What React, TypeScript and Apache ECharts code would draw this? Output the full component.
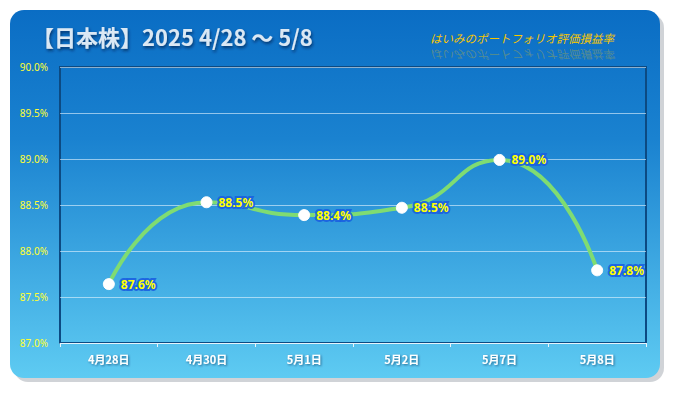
import React, { useEffect, useRef } from "react";
import * as echarts from "echarts";

const categories = ["4月28日", "4月30日", "5月1日", "5月2日", "5月7日", "5月8日"];
const values = [87.64, 88.53, 88.39, 88.47, 88.99, 87.79];
const titleText = "【日本株】2025 4/28 ～ 5/8";
const subtitleText = "はいみのポートフォリオ評価損益率";
const yMin = 87;
const yMax = 90;
const yInterval = 0.5;

export default function App() {
  const ref = useRef<HTMLDivElement>(null);
  useEffect(() => {
    if (!ref.current) return;
    const chart = echarts.init(ref.current, null, { renderer: "svg" });
    chart.setOption({
      animation: false,
      graphic: [
        {
          type: "rect",
          shape: { x: 14, y: 14, width: 650, height: 368, r: 14 },
          style: { fill: "rgba(120,130,140,0.35)" },
          z: -12,
        },
        {
          type: "rect",
          shape: { x: 10, y: 10, width: 650, height: 368, r: 14 },
          style: {
            fill: new echarts.graphic.LinearGradient(0, 0, 0, 1, [
              { offset: 0, color: "#0a6dc4" },
              { offset: 0.35, color: "#1a82d0" },
              { offset: 1, color: "#5ecbf2" },
            ]),
          },
          z: -10,
        },
        {
          type: "text",
          left: 32,
          top: 25,
          style: {
            text: titleText,
            fill: "#dbe8f4",
            font: "bold 22px 'Noto Sans CJK JP', 'Noto Sans'",
            textShadowColor: "rgba(0,30,70,0.7)",
            textShadowBlur: 3,
            textShadowOffsetX: 1,
            textShadowOffsetY: 2,
          },
        },
        {
          type: "text",
          x: 430,
          y: 32,
          style: {
            text: subtitleText,
            fill: "#f7c600",
            font: "italic 11.5px 'Noto Sans CJK JP'",
          },
        },
        {
          type: "text",
          x: 430,
          y: 61,
          scaleY: -1,
          style: {
            text: subtitleText,
            fill: "rgba(247,198,0,0.3)",
            font: "italic 11.5px 'Noto Sans CJK JP'",
          },
        },
      ],
      grid: {
        left: 60,
        right: 29,
        top: 67,
        bottom: 50,
        show: true,
        borderColor: "#0c4a82",
        borderWidth: 2,
        backgroundColor: "transparent",
      },
      xAxis: {
        type: "category",
        data: categories,
        boundaryGap: true,
        axisLine: { show: true, lineStyle: { color: "#e6f4fb", width: 1 } },
        axisTick: { show: true, length: 4, lineStyle: { color: "#e6f4fb" } },
        axisLabel: {
          color: "#ffffff",
          fontWeight: "bold",
          fontSize: 11,
          fontFamily: "'Noto Sans CJK JP'",
          margin: 10,
          textShadowColor: "rgba(0,40,80,0.6)",
          textShadowBlur: 2,
          textShadowOffsetX: 1,
          textShadowOffsetY: 1,
        },
        splitLine: { show: false },
      },
      yAxis: {
        type: "value",
        min: yMin,
        max: yMax,
        interval: yInterval,
        axisLine: { show: false },
        axisTick: { show: false },
        axisLabel: {
          color: "#ffff33",
          fontSize: 10,
          fontFamily: "'Noto Sans'",
          margin: 12,
          formatter: (v: number) => v.toFixed(1) + "%",
        },
        splitLine: { show: true, lineStyle: { color: "rgba(230,245,255,0.6)", width: 1 } },
      },
      series: [
        {
          type: "line",
          data: values,
          smooth: 0.55,
          symbol: "circle",
          symbolSize: 11,
          itemStyle: { color: "#ffffff", borderColor: "#ffffff" },
          lineStyle: { color: "#7fdc72", width: 4 },
          label: {
            show: true,
            position: "right",
            distance: 6,
            color: "#ffff00",
            fontWeight: "bold",
            fontSize: 12,
            fontFamily: "'Noto Sans'",
            textBorderColor: "rgba(25,95,225,0.9)",
            textBorderWidth: 4,
            formatter: (p: any) => p.value.toFixed(1) + "%",
          },
        },
      ],
    });
    return () => chart.dispose();
  }, []);
  return (
    <div
      ref={ref}
      style={{ position: "fixed", left: 0, top: 0, width: 675, height: 393, background: "#ffffff" }}
    />
  );
}
